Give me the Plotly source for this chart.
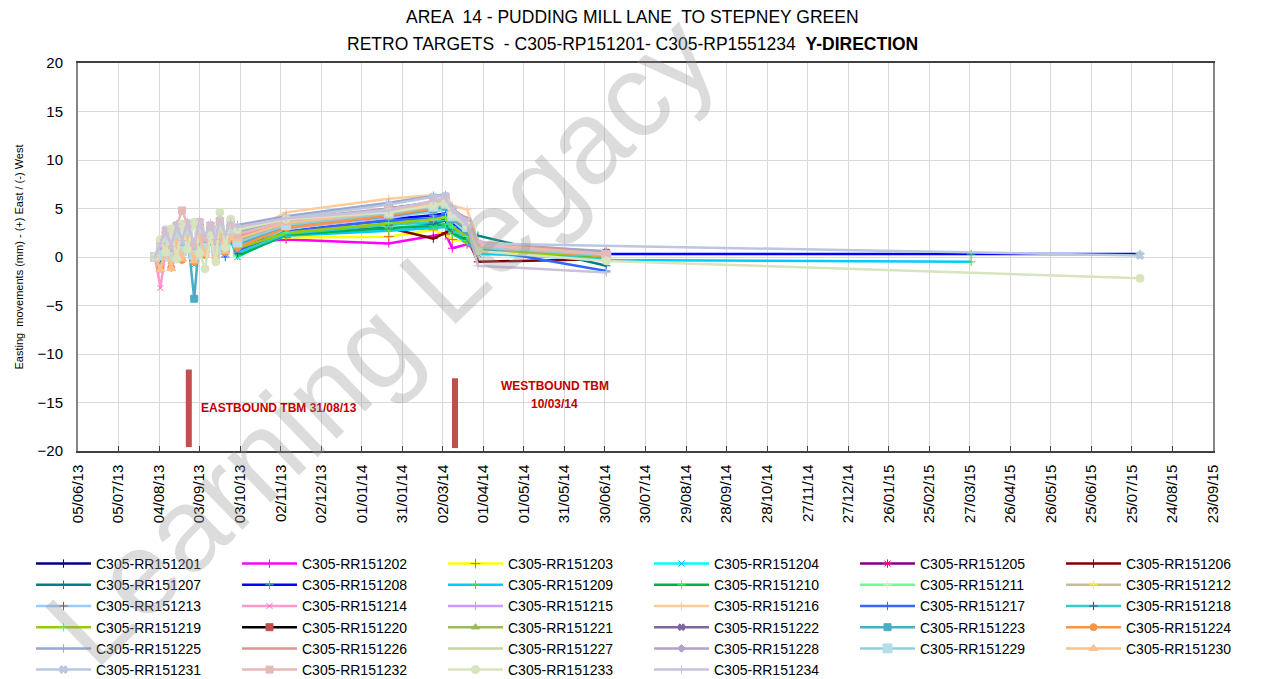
import plotly.graph_objects as go

# ---------------- data ----------------
survey_dates = [
    "2013-08-01", "2013-08-05", "2013-08-09", "2013-08-13", "2013-08-17",
    "2013-08-21", "2013-08-25", "2013-08-30", "2013-09-03", "2013-09-07",
    "2013-09-11", "2013-09-15", "2013-09-18", "2013-09-22", "2013-09-26",
    "2013-10-01", "2013-11-06", "2014-01-21", "2014-02-23", "2014-03-04",
    "2014-03-09", "2014-03-20", "2014-03-28", "2014-07-01", "2015-03-28",
    "2015-07-31",
]

target_names = ["C305-RR1512%02d" % i for i in range(1, 35)]

N = None
rr151201 = [0, 0.6, 1.9, 0.2, 2.3, 0.7, 2.5, 0.4, 2.6, 1.0, 2.4, 0.8, 2.9, 1.3, 2.5, 1.8, 3.2, 4.9, 5.3, 5.0, 4.0, 3.2, 1.4, 0.4, N, N]
rr151202 = [0, -0.4, 1.3, -0.2, 1.7, 0.3, 2.0, 0.1, 2.1, 0.6, 1.8, 0.4, 2.3, 0.8, 2.0, 1.5, 1.8, 1.4, 2.2, 2.4, 0.9, 1.3, 0.6, 0.2, N, N]
rr151203 = [0, 0.2, 1.5, 0.0, 2.0, 0.5, 2.2, 0.3, 2.4, 0.9, 2.1, 0.6, 2.6, 1.0, 2.2, 1.8, 2.0, 2.1, 2.8, 2.3, 1.8, 1.6, 0.9, 0.1, N, N]
rr151204 = [0, -0.6, 1.0, -0.4, 1.6, 0.1, 1.8, -0.8, 1.9, 0.3, 1.5, 0.2, 2.0, 0.4, 1.6, 0.0, 2.5, 2.9, 3.5, 3.3, 2.6, 1.9, 0.3, -0.1, N, N]
rr151205 = [0, 0.5, 2.0, 0.4, 2.5, 0.9, 2.7, 0.6, 2.9, 1.3, 2.6, 1.0, 3.1, 1.5, 2.8, 1.5, 3.0, 4.2, 5.2, 5.6, 3.5, 2.8, 0.9, 0.5, N, N]
rr151206 = [0, 0.3, 1.7, 0.1, 2.1, 0.6, 2.3, 0.3, 2.5, 0.8, 2.2, 0.6, 2.7, 1.1, 2.4, 1.2, 2.6, 3.0, 1.9, 2.5, 3.0, 2.0, -0.5, -0.2, N, N]
rr151207 = [0, 0.1, 1.4, -0.1, 1.9, 0.4, 2.1, 0.0, 2.3, 0.7, 2.0, 0.5, 2.5, 0.9, 2.1, 1.0, 2.9, 3.7, 3.4, 3.8, 3.0, 2.6, 2.2, -0.9, N, N]
rr151208 = [0, 0.4, 1.8, 0.2, 2.2, 0.6, 2.4, 0.2, 2.5, 0.8, 2.3, 0.5, 2.6, 0.3, 2.2, 0.8, 2.7, 3.9, 4.3, 4.5, 3.6, 2.2, 1.0, 0.3, 0.3, 0.3]
rr151209 = [0, -0.3, 1.2, -0.2, 1.7, 0.2, 1.9, -0.3, 2.0, 0.4, 1.7, 0.1, 2.1, 0.5, 1.8, 0.2, 2.2, 2.7, 3.0, 3.1, 2.4, 1.5, 0.4, -0.3, -0.5, N]
rr151210 = [0, -0.2, 1.3, -0.3, 1.8, 0.2, 2.0, -0.1, 2.1, 0.5, 1.8, 0.3, 2.2, 0.6, 1.9, 0.1, 2.3, 3.0, 3.2, 3.4, 2.5, 1.7, 0.7, 0.0, N, N]
rr151211 = [0, 0.2, 1.6, 0.1, 2.1, 0.5, 2.3, 0.2, 2.4, 0.8, 2.2, 0.6, 2.7, 1.0, 2.3, 0.5, 2.8, 4.3, 4.6, 4.9, 3.8, 2.4, 1.2, 0.2, N, N]
rr151212 = [0, 0.6, 2.1, 0.5, 2.6, 1.0, 2.8, 0.7, 3.0, 1.4, 2.7, 1.1, 3.2, 1.6, 2.9, 1.6, 3.1, 4.4, 5.0, 5.3, 4.0, 3.0, 1.1, 0.3, N, N]
rr151213 = [0, 0.0, 1.5, -0.2, 2.0, 0.4, 2.2, 0.1, 2.4, 0.8, 2.1, 0.5, 2.6, 1.0, 2.3, 1.1, 2.9, 4.0, 4.8, 5.0, 3.7, 2.7, 0.8, 0.2, N, N]
rr151214 = [0, -3.2, 0.8, -1.0, 1.6, 0.0, 2.0, -0.3, 2.1, 0.5, 1.9, 0.4, 2.4, 0.8, 2.1, 1.3, 3.0, 4.1, 5.1, 5.4, 4.2, 2.9, 1.0, 0.1, N, N]
rr151215 = [0, 0.7, 2.2, 0.6, 2.7, 1.1, 2.9, 0.8, 3.1, 1.5, 2.8, 1.2, 3.3, 1.7, 3.0, 1.8, 3.4, 4.6, 5.4, 5.7, 4.4, 3.1, 1.1, 0.4, N, N]
rr151216 = [0, 0.5, 2.0, 0.3, 2.4, 0.9, 2.6, 0.5, 2.8, 1.2, 2.5, 1.0, 3.0, 1.4, 2.7, 2.0, 4.6, 6.0, 6.4, 6.2, 5.3, 4.9, 1.6, 0.5, N, N]
rr151217 = [0, 0.1, 1.5, 0.0, 2.0, 0.4, 2.2, 0.1, 2.3, 0.6, 2.1, 0.4, 1.2, 0.0, 2.0, 0.6, 2.6, 3.8, 4.0, 4.4, 3.2, 2.3, 0.9, -1.45, N, N]
rr151218 = [0, -0.1, 1.3, -0.2, 1.8, 0.3, 2.0, -0.2, 2.1, 0.5, 1.8, 0.3, 2.3, 0.6, 1.9, 0.4, 2.4, 3.3, 3.6, 3.9, 2.8, 2.0, 0.5, -0.2, N, N]
rr151219 = [0, 0.0, 1.4, -0.4, 1.9, 0.3, 2.1, 0.0, 2.2, 0.6, 1.9, 0.3, 2.4, 0.7, 2.0, 0.9, 2.5, 3.5, 3.9, 4.1, 3.1, 2.1, 0.6, 0.1, N, N]
rr151220 = [0, 0.4, 1.8, 0.3, 2.3, 0.7, 2.5, 0.4, 2.7, 1.1, 2.4, 0.9, 2.9, 1.3, 2.6, 1.4, 3.3, 5.0, 5.6, 5.8, 4.6, 3.6, 1.3, 0.4, N, N]
rr151221 = [0, 0.6, 2.0, 0.4, 2.5, 1.0, 2.7, 0.6, 2.9, 1.3, 2.6, 1.1, 3.1, 1.5, 2.8, 1.7, 3.6, 4.8, 5.3, 5.5, 4.3, 3.3, 1.2, 0.3, N, N]
rr151222 = [0, 0.9, 2.4, 0.7, 2.8, 1.2, 3.0, 0.9, 3.2, 1.6, 2.9, 1.4, 3.4, 1.8, 3.1, 2.2, 3.7, 4.5, 5.5, 6.0, 4.6, 3.5, 1.3, 0.5, N, N]
rr151223 = [0, 0.3, 1.6, 0.1, 2.1, 0.5, 2.3, -4.3, 2.2, 0.7, 2.2, 0.6, 2.7, 1.0, 2.4, 1.3, 3.1, 4.2, 4.9, 5.2, 3.9, 2.8, 0.9, 0.2, N, N]
rr151224 = [0, -1.2, 0.9, -1.1, 1.5, -0.3, 1.8, -0.5, 2.0, 0.2, 1.7, 0.0, 2.2, 0.5, 1.9, 1.0, 3.0, 4.3, 5.0, 5.5, 4.1, 3.0, 1.0, 0.1, N, N]
rr151225 = [0, 1.0, 2.5, 0.8, 3.0, 1.4, 3.2, 1.0, 3.4, 1.8, 3.1, 1.5, 3.6, 2.0, 3.3, 3.3, 4.2, 5.6, 6.3, 6.4, 5.0, 3.8, 1.4, 0.6, N, N]
rr151226 = [0, 0.8, 2.3, 0.6, 2.8, 1.2, 3.0, 0.8, 3.2, 1.6, 2.9, 1.3, 3.4, 1.8, 3.1, 2.0, 3.6, 4.9, 5.6, 6.0, 4.8, 4.0, 1.5, 0.4, N, N]
rr151227 = [0, 1.1, 2.6, 0.9, 3.1, 1.5, 3.3, 1.1, 3.5, 1.9, 3.2, 1.6, 3.7, 2.1, 3.4, 2.4, 3.8, 4.7, 5.4, 5.9, 4.5, 3.2, 1.1, 0.3, N, N]
rr151228 = [0, 0.9, 2.5, 0.8, 3.0, 1.3, 3.2, 1.0, 3.4, 1.7, 3.0, 1.5, 3.5, 1.9, 3.2, 2.6, 3.9, 5.0, 5.7, 6.1, 4.7, 3.4, 1.2, 0.4, N, N]
rr151229 = [0, 0.2, 1.7, 0.0, 2.2, 0.6, 2.4, 0.2, 2.6, 0.9, 2.3, 0.7, 2.8, 1.2, 2.5, 1.5, 3.3, 4.5, 5.2, 5.5, 4.2, 3.1, 1.0, 0.2, N, N]
rr151230 = [0, -1.3, 1.0, -1.2, 1.6, -0.2, 1.9, -0.4, 2.1, 0.3, 1.8, 0.1, 2.3, 0.6, 2.0, 1.9, 3.5, 4.7, 5.5, 5.9, 4.6, 3.4, 1.3, 0.3, N, N]
rr151231 = [0, 1.2, 2.8, 1.0, 3.3, 1.6, 3.5, 1.2, 3.6, 2.0, 3.3, 1.7, 3.8, 2.2, 3.5, 3.0, 4.0, 5.4, 6.2, 6.3, 4.9, 3.7, 1.4, N, N, 0.15]
rr151232 = [0, 1.5, 2.6, 1.2, 3.2, 4.8, 3.4, 1.3, 3.6, 2.0, 3.2, 1.8, 3.7, 2.1, 3.3, 2.3, 3.7, 4.9, 5.7, 6.0, 4.5, 3.3, 1.2, 0.3, N, N]
rr151233 = [0, 1.8, 0.5, 2.9, -0.2, 3.4, 0.8, 3.6, 0.4, -1.2, 2.2, -0.5, 4.6, 1.0, 3.9, 2.8, 3.9, 4.6, 5.3, 5.6, 4.4, 3.2, 0.6, -0.4, N, -2.2]
rr151234 = [0, 1.4, 2.9, 1.1, 3.4, 1.7, 3.6, 1.3, 3.8, 2.1, 3.5, 1.8, 4.0, 2.3, 3.6, 3.1, 4.0, 4.8, 5.8, 6.1, 4.8, 3.3, -0.9, -1.6, N, N]

series_values = [
    rr151201, rr151202, rr151203, rr151204, rr151205, rr151206, rr151207,
    rr151208, rr151209, rr151210, rr151211, rr151212, rr151213, rr151214,
    rr151215, rr151216, rr151217, rr151218, rr151219, rr151220, rr151221,
    rr151222, rr151223, rr151224, rr151225, rr151226, rr151227, rr151228,
    rr151229, rr151230, rr151231, rr151232, rr151233, rr151234,
]

# TBM passage markers
tbm_dates = ["2013-08-26", "2014-03-11"]
tbm_top = [-11.6, -12.5]
tbm_bottom = [-19.6, -19.7]
tbm_label_dates = ["2013-11-01", "2014-05-24", "2014-05-24"]
tbm_label_values = [-15.6, -13.3, -15.2]
tbm_labels = ["EASTBOUND TBM 31/08/13", "WESTBOUND TBM", "10/03/14"]

title_lines = ["AREA  14 - PUDDING MILL LANE  TO STEPNEY GREEN",
               "RETRO TARGETS  - C305-RP151201- C305-RP1551234  <b>Y-DIRECTION</b>"]

# ---------------- styles ----------------
styles = [
    ("#000080", "cross-thin", 6, "#000080"),
    ("#FF00FF", "cross-thin", 6, "#FF00FF"),
    ("#FFFF00", "cross-thin", 7, "#E46C0A"),
    ("#00FFFF", "x-thin", 6, "#00B0F0"),
    ("#800080", "asterisk", 7, "#FF0066"),
    ("#800000", "cross-thin", 6, "#800000"),
    ("#008080", "cross-thin", 6, "#008080"),
    ("#0000FF", "cross-thin", 6, "#33CC66"),
    ("#00CCFF", "cross-thin", 6, "#66CC33"),
    ("#00B050", "cross-thin", 6, "#33FF66"),
    ("#66FF99", "cross-thin", 6, "#CCFFCC"),
    ("#C4BD97", "cross-thin", 6, "#FFFF00"),
    ("#99CCFF", "cross-thin", 6, "#A0522D"),
    ("#FF99CC", "x-thin", 6, "#FF66CC"),
    ("#CC99FF", "cross-thin", 6, "#CC99FF"),
    ("#FFCC99", "cross-thin", 6, "#FFCC99"),
    ("#3366FF", "cross-thin", 6, "#3366FF"),
    ("#33CCCC", "cross-thin", 6, "#7030A0"),
    ("#99CC00", "cross-thin", 6, "#33FF99"),
    ("#000000", "square", 7, "#C0504D"),
    ("#9BBB59", "triangle-up", 7, "#9BBB59"),
    ("#8064A2", "x", 6, "#8064A2"),
    ("#4BACC6", "square", 7, "#4BACC6"),
    ("#F79646", "circle", 7, "#F79646"),
    ("#95A9D2", "cross-thin", 6, "#95A9D2"),
    ("#D99694", "line-ew", 6, "#D99694"),
    ("#C3D69B", "line-ew", 6, "#C3D69B"),
    ("#B3A2C7", "diamond", 6, "#B3A2C7"),
    ("#93CDDD", "square", 9, "#B7DEE8"),
    ("#FAC090", "triangle-up", 8, "#FAC090"),
    ("#B9C7E0", "x", 7, "#B9C7E0"),
    ("#E6B9B8", "square", 7, "#E6B9B8"),
    ("#D7E4BD", "circle", 8, "#D7E4BD"),
    ("#CCC1DA", "cross-thin", 6, "#CCC1DA"),
]

FONT = "Liberation Sans, Arial, sans-serif"

# ---------------- geometry (page pixels; page has an 8px body margin) ----------------
OFF = 8
W, H = 1263, 700
ML, MR, MT = 70, 10, 55
PLOT_BOTTOM = 443
MB = H - PLOT_BOTTOM
gw = W - ML - MR
gh = H - MT - MB


def px(xp):
    return (xp - OFF - ML) / gw


def py(yp):
    return (PLOT_BOTTOM - (yp - OFF)) / gh


fig = go.Figure()
for name, vals, (lc, sym, size, mc) in zip(target_names, series_values, styles):
    fig.add_trace(go.Scatter(
        x=survey_dates, y=vals, name=name, mode="lines+markers",
        connectgaps=True,
        line=dict(color=lc, width=2.5),
        marker=dict(symbol=sym, size=size, color=mc,
                    line=dict(color=mc, width=1)),
    ))

shapes = []
for d, top, bot in zip(tbm_dates, tbm_top, tbm_bottom):
    shapes.append(dict(type="line", xref="x", yref="y", x0=d, x1=d, y0=bot, y1=top,
                       line=dict(color="#C0504D", width=6), layer="above"))

annotations = []
for d, v, t in zip(tbm_label_dates, tbm_label_values, tbm_labels):
    annotations.append(dict(x=d, y=v, xref="x", yref="y", text="<b>%s</b>" % t,
                            showarrow=False, xanchor="center", yanchor="middle",
                            font=dict(family=FONT, size=12, color="#C00000")))

for t, yp in zip(title_lines, [17, 44]):
    annotations.append(dict(x=px(632), y=py(yp), xref="paper", yref="paper", text=t,
                            showarrow=False, xanchor="center", yanchor="middle",
                            font=dict(family=FONT, size=17.5, color="#000")))

# watermark
annotations.append(dict(x=px(380), y=py(340), xref="paper", yref="paper", text="Learning Legacy",
                        showarrow=False, textangle=-44, xanchor="center", yanchor="middle",
                        font=dict(family=FONT, size=118, color="rgba(150,150,150,0.33)")))

fig.update_layout(
    width=W, height=H,
    margin=dict(l=ML, r=MR, t=MT, b=MB, autoexpand=False),
    paper_bgcolor="white", plot_bgcolor="white",
    font=dict(family=FONT, color="#000"),
    shapes=shapes, annotations=annotations,
    showlegend=True,
    legend=dict(orientation="h", x=(23 - ML) / gw, xanchor="left",
                y=(PLOT_BOTTOM - 540) / gh, yanchor="top",
                entrywidth=136, entrywidthmode="pixels", itemwidth=55,
                font=dict(family=FONT, size=14, color="#000"),
                traceorder="normal", bgcolor="rgba(0,0,0,0)"),
    xaxis=dict(
        type="date", domain=[0, 1135 / gw], automargin=False,
        range=["2013-06-05", "2015-09-23"],
        tick0="2013-06-05", dtick=30 * 86400000, tickformat="%d/%m/%y",
        tickangle=-90, tickfont=dict(family=FONT, size=15, color="#000"),
        ticklabelstandoff=6,
        showgrid=True, gridcolor="#D9D9D9", gridwidth=1,
        showline=True, linecolor="#404040", linewidth=1.5, mirror=True,
        ticks="inside", ticklen=5, tickcolor="#404040",
        zeroline=False,
    ),
    yaxis=dict(
        range=[-20, 20], dtick=5, tick0=0, automargin=False,
        tickfont=dict(family=FONT, size=15, color="#000"),
        ticklabelstandoff=10,
        showgrid=True, gridcolor="#D9D9D9", gridwidth=1,
        showline=True, linecolor="#868686", linewidth=2, mirror=True,
        zeroline=False, ticks="",
        title=dict(text="Easting  movements (mm) - (+) East / (-) West",
                   font=dict(family=FONT, size=11, color="#000"), standoff=12),
    ),
)

fig.write_html("out.html")
